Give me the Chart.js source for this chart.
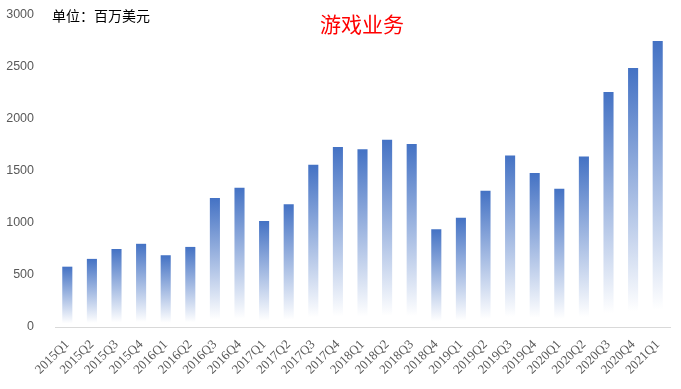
<!DOCTYPE html>
<html>
<head>
<meta charset="utf-8">
<script src="https://cdn.jsdelivr.net/npm/chart.js@4"></script>
<style>
  html, body { margin: 0; padding: 0; background: #fff; }
  #wrap { width: 681px; height: 389px; position: relative; }
</style>
</head>
<body>
<div id="wrap"><canvas id="gameChart"></canvas></div>
<script>
// Quarterly data, millions of USD
const quarters = ['2015Q1', '2015Q2', '2015Q3', '2015Q4', '2016Q1', '2016Q2', '2016Q3', '2016Q4',
  '2017Q1', '2017Q2', '2017Q3', '2017Q4', '2018Q1', '2018Q2', '2018Q3', '2018Q4',
  '2019Q1', '2019Q2', '2019Q3', '2019Q4', '2020Q1', '2020Q2', '2020Q3', '2020Q4', '2021Q1'];
const revenue = [580, 655, 750, 800, 690, 770, 1240, 1340,
  1020, 1180, 1560, 1730, 1710, 1800, 1760, 940,
  1050, 1310, 1650, 1480, 1330, 1640, 2260, 2490, 2750];
const yTicks = [0, 500, 1000, 1500, 2000, 2500, 3000];

const chartTitle = '游戏业务';
const unitText = '单位：百万美元';

// gradient per bar: dark blue at its top fading to white just above zero
const barFill = (ctx) => {
  const chart = ctx.chart;
  const yScale = chart.scales.y;
  if (!chart.chartArea || !yScale || ctx.raw == null) return '#4472C4';
  const top = yScale.getPixelForValue(ctx.raw);
  const bottom = yScale.getPixelForValue(0);
  const g = chart.ctx.createLinearGradient(0, top, 0, bottom);
  g.addColorStop(0, '#4472C4');
  g.addColorStop(0.94, '#ffffff');
  g.addColorStop(1, '#ffffff');
  return g;
};

// draws the red title and the unit note
const textPlugin = {
  id: 'chartTexts',
  afterDraw(chart) {
    const c = chart.ctx;
    c.save();
    c.textBaseline = 'middle';
    c.fillStyle = '#FF0000';
    c.font = '21px "Noto Sans CJK SC"';
    c.textAlign = 'center';
    c.fillText(chartTitle, 362, 24);
    c.fillStyle = '#000000';
    c.font = '14px "Noto Sans CJK SC"';
    c.textAlign = 'left';
    c.fillText(unitText, 52, 16);
    c.restore();
  }
};

const ctx = document.getElementById('gameChart').getContext('2d');
new Chart(ctx, {
  type: 'bar',
  data: {
    labels: quarters,
    datasets: [{
      label: chartTitle,
      data: revenue,
      backgroundColor: barFill,
      borderWidth: 0,
      categoryPercentage: 0.82,
      barPercentage: 0.5
    }]
  },
  options: {
    responsive: true,
    maintainAspectRatio: false,
    animation: false,
    layout: { padding: { top: 15, right: 11, left: 0, bottom: 0 } },
    plugins: {
      legend: { display: false },
      tooltip: { enabled: false }
    },
    scales: {
      x: {
        grid: { display: false },
        border: { display: true, color: '#d9d9d9', width: 1 },
        ticks: {
          color: '#595959',
          font: { family: '"Liberation Serif"', size: 13 },
          maxRotation: 45,
          minRotation: 45,
          padding: 2,
          autoSkip: false
        },
        afterFit(scale) {
          scale.height = 62;
          scale.paddingLeft = 0;
          scale.paddingRight = 0;
          scale.paddingTop = 0;
        }
      },
      y: {
        min: 0,
        max: 3000,
        grid: { display: false },
        border: { display: false },
        afterBuildTicks(scale) { scale.ticks = yTicks.map(v => ({ value: v })); },
        ticks: {
          color: '#595959',
          font: { family: '"Liberation Sans"', size: 12.5 },
          padding: 13,
          callback: (v) => String(v)
        },
        afterFit(scale) {
          scale.width = 55;
          scale.paddingTop = 0;
          scale.paddingBottom = 0;
        }
      }
    }
  },
  plugins: [textPlugin]
});
</script>
</body>
</html>
